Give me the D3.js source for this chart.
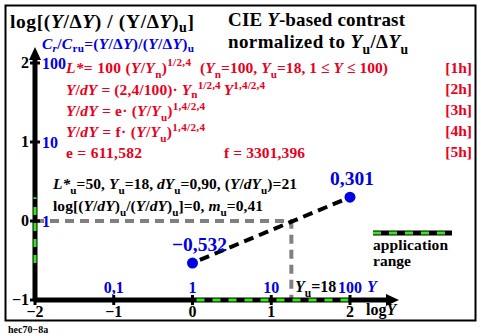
<!DOCTYPE html>
<html><head><meta charset="utf-8">
<script src="https://cdn.jsdelivr.net/npm/d3@7"></script>
<style>body{margin:0;background:#fff}svg{display:block}text{font-family:"Liberation Serif","Times New Roman",serif;font-weight:bold}</style>
</head><body>
<script>
// ---- data ----
const xTicks = [-2, -1, 0, 1, 2];
const xTickLabels = ["\u22122", "\u22121", "0", "1", "2"];
const xBlueTicks = [-1, 0, 1, 2];
const xBlueLabels = ["0,1", "1", "10", "100"];
const yTicks = [-1, 0, 1, 2];
const yTickLabels = ["\u22121", "0", "1", "2"];
const yBlueTicks = [0, 1, 2];
const yBlueLabels = ["1", "10", "100"];
const logY = [0, 2];
const contrastLog = [-0.532, 0.301];
const pointLabels = ["\u22120,532", "0,301"];
const Yu = 18;
const appXRange = [0, 2];
const appYRange = [-0.532, 0.301];

const W = 481, H = 336;
const svg = d3.select("body").append("svg").attr("width", W).attr("height", H);
const x = d3.scaleLinear().domain([-2, 2]).range([35, 350]);
const y = d3.scaleLinear().domain([-1, 2]).range([300, 63]);
const RED = "#e8001c", BLUE = "#0000e0", GREEN = "#33e61a", GRAY = "#808080";

// frame
svg.append("rect").attr("x", 5.5).attr("y", 5.5).attr("width", 470).attr("height", 315)
  .attr("fill", "none").attr("stroke", "#000").attr("stroke-width", 2);
svg.append("text").attr("x", 8).attr("y", 333).attr("font-size", 10).attr("font-weight", "normal").text("hec70\u22128a");

// rich text helper: parts = [text, mode, dx] mode: n, i, sub, isub, sup
function rich(x0, y0, size, color, parts, anchor, len, subK, supK) {
  const t = svg.append("text").attr("x", x0).attr("y", y0).attr("font-size", size).attr("fill", color);
  if (anchor) t.attr("text-anchor", anchor);
  if (len) t.attr("textLength", len).attr("lengthAdjust", "spacing");
  const sk = subK || 0.3, pk = supK || 0.42;
  let shift = 0;
  parts.forEach(([s, m, dx]) => {
    const sp = t.append("tspan").text(s);
    let target = 0;
    if (m && m.includes("sub")) { target = size * sk; sp.attr("font-size", size * 0.72); }
    else if (m && m.includes("sup")) { target = -size * pk; sp.attr("font-size", size * 0.72); }
    sp.attr("dy", target - shift); shift = target;
    if (dx) sp.attr("dx", dx);
    if (m && m.includes("i")) sp.attr("font-style", "italic");
  });
  return t;
}

// titles
rich(10, 28, 19.5, "#000", [["log[(", "n"], ["Y", "i"], ["/\u0394", "n"], ["Y", "i"], [") / (Y/\u0394", "n"], ["Y", "i"], [")", "n"], ["u", "sub"], ["]", "n"]], null, 184, 0.2);
rich(228, 26, 19, "#000", [["CIE ", "n"], ["Y", "i"], ["-based contrast", "n"]], null, 177);
rich(228, 48, 19, "#000", [["normalized to ", "n"], ["Y", "i"], ["u", "sub"], ["/\u0394", "n"], ["Y", "i"], ["u", "sub"]], null, 180);
rich(42, 49, 15.5, BLUE, [["C", "i"], ["r", "isub"], ["/", "n"], ["C", "i"], ["ru", "sub"], ["=(", "n"], ["Y", "i"], ["/\u0394", "n"], ["Y", "i"], [")/(", "n"], ["Y", "i"], ["/\u0394", "n"], ["Y", "i"], [")", "n"], ["u", "sub"]], null, 152, 0.2);

// red equations
const RS = 15.5;
rich(66, 73, RS, RED, [["L*", "i"], ["= 100 (", "n"], ["Y", "i"], ["/", "n"], ["Y", "i"], ["n", "sub"], [")", "n"], ["1/2,4", "sup"]], null, 125);
rich(200, 73, RS, RED, [["(", "n"], ["Y", "i"], ["n", "sub"], ["=100, ", "n"], ["Y", "i"], ["u", "sub"], ["=18, 1 \u2264 ", "n"], ["Y", "i"], [" \u2264 100)", "n"]], null, 188);
rich(66, 95, RS, RED, [["Y", "i"], ["/", "n"], ["dY", "i"], [" = (2,4/100)\u00b7 ", "n"], ["Y", "i"], ["n", "sub"], ["1/2,4", "sup"], ["Y", "i", 3], ["1,4/2,4", "sup"]], null, 199, 0.2, 0.4);
rich(66, 116, RS, RED, [["Y", "i"], ["/", "n"], ["dY", "i"], [" = e\u00b7 (", "n"], ["Y", "i"], ["/", "n"], ["Y", "i"], ["u", "sub"], [")", "n"], ["1,4/2,4", "sup"]], null, 139, 0.3, 0.36);
rich(66, 137, RS, RED, [["Y", "i"], ["/", "n"], ["dY", "i"], [" = f\u00b7 (", "n"], ["Y", "i"], ["/", "n"], ["Y", "i"], ["u", "sub"], [")", "n"], ["1,4/2,4", "sup"]], null, 139, 0.3, 0.36);
rich(66, 158, RS, RED, [["e = 611,582", "n"]], null, 76);
rich(224, 158, RS, RED, [["f = 3301,396", "n"]], null, 81);
["[1h]", "[2h]", "[3h]", "[4h]", "[5h]"].forEach((s, i) =>
  rich(472, 73 + i * 21, RS, RED, [[s, "n"]], "end"));

// black info text
rich(53, 189, 15.5, "#000", [["L*", "i"], ["u", "sub"], ["=50, ", "n"], ["Y", "i"], ["u", "sub"], ["=18, ", "n"], ["dY", "i"], ["u", "sub"], ["=0,90, (", "n"], ["Y", "i"], ["/", "n"], ["dY", "i"], ["u", "sub"], [")=21", "n"]], null, 244);
rich(53, 211, 15.5, "#000", [["log[(", "n"], ["Y", "i"], ["/", "n"], ["dY", "i"], [")", "n"], ["u", "sub"], ["/(", "n"], ["Y", "i"], ["/", "n"], ["dY", "i"], [")", "n"], ["u", "sub"], ["]=0, ", "n"], ["m", "i"], ["u", "sub"], ["=0,41", "n"]], null, 210);

// gray dashed reference line at Yu
const lu = Math.log10(Yu);
svg.append("path").attr("d", d3.line()([[x(-2), y(0)], [x(lu), y(0)], [x(lu), y(-1)]]))
  .attr("fill", "none").attr("stroke", GRAY).attr("stroke-width", 4).attr("stroke-dasharray", "9,6");

// axes
svg.append("line").attr("x1", x(-2)).attr("x2", 392).attr("y1", y(-1)).attr("y2", y(-1)).attr("stroke", "#000").attr("stroke-width", 5);
svg.append("path").attr("d", `M${399},${y(-1)} L${386},${y(-1) - 6} L${386},${y(-1) + 6} Z`).attr("fill", "#000");
svg.append("line").attr("x1", x(-2)).attr("x2", x(-2)).attr("y1", y(-1)).attr("y2", 55).attr("stroke", "#000").attr("stroke-width", 5);
svg.append("path").attr("d", `M${x(-2)},47 L${x(-2) - 6},60 L${x(-2) + 6},60 Z`).attr("fill", "#000");

// application range on axes
svg.append("line").attr("x1", x(appXRange[0])).attr("x2", x(appXRange[1])).attr("y1", y(-1)).attr("y2", y(-1))
  .attr("stroke", GREEN).attr("stroke-width", 3).attr("stroke-dasharray", "8,8").attr("stroke-dashoffset", -4);
svg.append("line").attr("x1", x(-2)).attr("x2", x(-2)).attr("y1", y(appYRange[0])).attr("y2", y(appYRange[1]))
  .attr("stroke", GREEN).attr("stroke-width", 3).attr("stroke-dasharray", "8,8");

// ticks
xTicks.forEach((v, i) => {
  svg.append("line").attr("x1", x(v)).attr("x2", x(v)).attr("y1", y(-1) - 5).attr("y2", y(-1) + 5).attr("stroke", "#000").attr("stroke-width", 3);
  svg.append("text").attr("x", x(v)).attr("y", 317).attr("font-size", 16).attr("text-anchor", "middle").text(xTickLabels[i]);
});
xBlueTicks.forEach((v, i) => {
  svg.append("text").attr("x", x(v)).attr("y", 293).attr("font-size", 16).attr("fill", BLUE).attr("text-anchor", "middle").text(xBlueLabels[i]);
});
yTicks.forEach((v, i) => {
  svg.append("line").attr("x1", x(-2) - 5).attr("x2", x(-2) + 5).attr("y1", y(v)).attr("y2", y(v)).attr("stroke", "#000").attr("stroke-width", 3);
  svg.append("text").attr("x", 29).attr("y", y(v) + 5).attr("font-size", 16).attr("text-anchor", "end").text(yTickLabels[i]);
});
yBlueTicks.forEach((v, i) => {
  svg.append("text").attr("x", 42).attr("y", y(v) + 6).attr("font-size", 16).attr("fill", BLUE).text(yBlueLabels[i]);
});
rich(367, 292, 16, BLUE, [["Y", "i"]]);
rich(366, 315, 16, "#000", [["log", "n"], ["Y", "i"]]);
rich(295, 292, 16, "#000", [["Y", "i"], ["u", "sub"], ["=18", "n"]]);

// data line + points
const pts = logY.map((v, i) => [x(v), y(contrastLog[i])]);
svg.append("path").attr("d", d3.line()(pts)).attr("fill", "none").attr("stroke", "#000")
  .attr("stroke-width", 4).attr("stroke-dasharray", "10,6").attr("stroke-dashoffset", -8);
svg.selectAll("circle.p").data(pts).enter().append("circle").attr("cx", d => d[0]).attr("cy", d => d[1]).attr("r", 5.5).attr("fill", BLUE);
svg.append("text").attr("x", pts[0][0] + 7).attr("y", pts[0][1] - 12).attr("font-size", 19.5).attr("fill", BLUE).attr("text-anchor", "middle").text(pointLabels[0]);
svg.append("text").attr("x", pts[1][0] + 2).attr("y", pts[1][1] - 12).attr("font-size", 19.5).attr("fill", BLUE).attr("text-anchor", "middle").text(pointLabels[1]);

// legend
svg.append("line").attr("x1", 373).attr("x2", 452).attr("y1", 233).attr("y2", 233).attr("stroke", "#000").attr("stroke-width", 5);
svg.append("line").attr("x1", 373).attr("x2", 452).attr("y1", 233).attr("y2", 233).attr("stroke", GREEN).attr("stroke-width", 3).attr("stroke-dasharray", "8,8");
svg.append("text").attr("x", 373).attr("y", 250).attr("font-size", 15.5).attr("textLength", 75).text("application");
svg.append("text").attr("x", 373).attr("y", 266).attr("font-size", 15.5).text("range");
</script>
</body></html>
